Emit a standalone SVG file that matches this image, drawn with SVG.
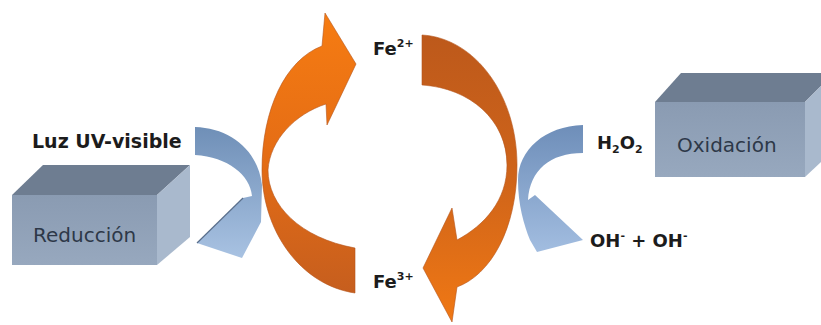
<svg xmlns="http://www.w3.org/2000/svg" width="821" height="325" viewBox="0 0 821 325">
  <defs>
    <style>
      .lbl { font-family: "DejaVu Sans", Verdana, sans-serif; font-weight: bold; fill: #1c1c1c; }
      .box { font-family: "DejaVu Sans", Verdana, sans-serif; font-size: 20px; fill: #2d3848; }
      .top { fill: #6e7d91; }
      .side { fill: #a9b9cd; }
      .front { fill: url(#gFront); }
    </style>
    <linearGradient id="gFront" x1="0" y1="0" x2="0" y2="1">
      <stop offset="0" stop-color="#8a9bb2"/>
      <stop offset="1" stop-color="#97a8be"/>
    </linearGradient>
    <linearGradient id="gOrL" x1="0" y1="0" x2="0" y2="1">
      <stop offset="0" stop-color="#f67c12"/>
      <stop offset="0.5" stop-color="#e56d15"/>
      <stop offset="1" stop-color="#c65e1e"/>
    </linearGradient>
    <linearGradient id="gOrR" x1="0" y1="0" x2="0" y2="1">
      <stop offset="0" stop-color="#bd591b"/>
      <stop offset="0.5" stop-color="#cf641a"/>
      <stop offset="1" stop-color="#f07814"/>
    </linearGradient>
    <linearGradient id="gBlL" x1="0" y1="0" x2="0" y2="1">
      <stop offset="0" stop-color="#6f8fb7"/>
      <stop offset="1" stop-color="#a8c2e2"/>
    </linearGradient>
    <linearGradient id="gBlR" x1="0" y1="0" x2="0" y2="1">
      <stop offset="0" stop-color="#6e8eb9"/>
      <stop offset="1" stop-color="#a2bde0"/>
    </linearGradient>
  </defs>

  <rect width="821" height="325" fill="#ffffff"/>

  <g id="connectors">
    <path id="arrow-fe3-fe2" fill="url(#gOrL)" stroke="#b5561c" stroke-width="0.6"
      d="M355,248 C300,238 268,205 268,170 C270,140 295,114 326,104 L327,125 L356,64 L325,13 L322,46 C285,60 262,110 262,170 C262,230 300,285 355,293 Z"/>
    <path id="arrow-fe2-fe3" fill="url(#gOrR)" stroke="#b5561c" stroke-width="0.6"
      d="M422,35 C475,38 517,95 517,165 C517,230 490,275 457,287 L452,322 L423,268 L452,208 L457,240 C485,225 507,200 507,165 C507,120 470,88 422,85 Z"/>
    <path id="arrow-luz" fill="url(#gBlL)"
      d="M195,127 C230,128 258,150 262,185 L261,222 L242,258 L197,243 L243,198 L252,196 C250,175 228,157 195,155 Z"/>
    <path d="M243,198 L197,243" stroke="#5a6f8c" stroke-width="1.2" fill="none"/>
    <path id="arrow-h2o2" fill="url(#gBlR)"
      d="M583,125 C545,126 518,150 518,180 C518,205 524,225 530,240 L537,252 L583,240 L535,195 L528,200 C530,170 550,153 583,153 Z"/>
  </g>

  <g id="box-reduccion">
    <polygon class="top" points="12,195 43,165 190,165 157,195"/>
    <polygon class="side" points="157,195 190,165 190,237 157,265"/>
    <rect class="front" x="12" y="195" width="145" height="70"/>
    <text class="box" x="33" y="242">Reducción</text>
  </g>

  <g id="box-oxidacion">
    <polygon class="top" points="655,102 681,73 834,73 805,102"/>
    <polygon class="side" points="805,102 834,73 834,150 805,177"/>
    <rect class="front" x="655" y="102" width="150" height="75"/>
    <text class="box" x="677" y="152">Oxidación</text>
  </g>

  <g id="label-luz">
    <text class="lbl" x="32" y="148" font-size="19">Luz UV-visible</text>
  </g>
  <g id="label-h2o2">
    <text class="lbl" x="597" y="149" font-size="18">H<tspan font-size="11" dy="4">2</tspan><tspan dy="-4">O</tspan><tspan font-size="11" dy="4">2</tspan></text>
  </g>
  <g id="label-oh">
    <text class="lbl" x="590" y="247" font-size="18">OH<tspan font-size="11" dy="-8">-</tspan><tspan dy="8"> + OH</tspan><tspan font-size="11" dy="-8">-</tspan></text>
  </g>
  <g id="label-fe2">
    <text class="lbl" x="373" y="55" font-size="18">Fe<tspan font-size="11" dy="-8">2+</tspan></text>
  </g>
  <g id="label-fe3">
    <text class="lbl" x="373" y="288" font-size="18">Fe<tspan font-size="11" dy="-8">3+</tspan></text>
  </g>
</svg>
